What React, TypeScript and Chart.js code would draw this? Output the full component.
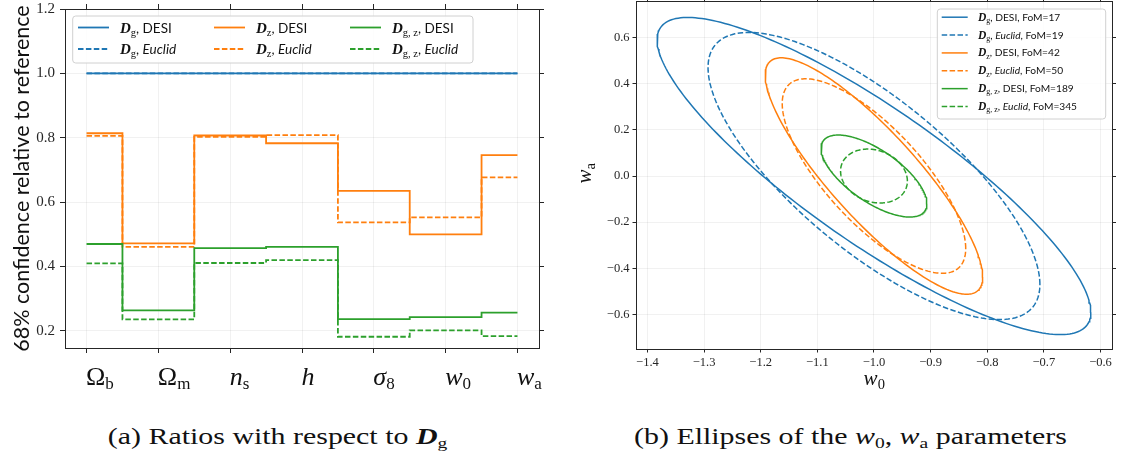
import React, { useEffect, useRef } from 'react';
import { Chart, registerables } from 'chart.js';

Chart.register(...registerables);

// ---------------- data: left panel (ratios) ----------------
const paramMain = ['Ω', 'Ω', 'n', 'h', 'σ', 'w', 'w'];
const paramSub = ['b', 'm', 's', '', '8', '0', 'a'];
const paramItalic = [false, false, true, true, true, true, true];

const ratioDgDESI = [1, 1, 1, 1, 1, 1, 1];
const ratioDgEuclid = [1, 1, 1, 1, 1, 1, 1];
const ratioDzDESI = [0.814, 0.472, 0.807, 0.783, 0.635, 0.5, 0.746];
const ratioDzEuclid = [0.806, 0.461, 0.803, 0.808, 0.537, 0.553, 0.677];
const ratioDgzDESI = [0.47, 0.264, 0.457, 0.461, 0.237, 0.243, 0.257];
const ratioDgzEuclid = [0.41, 0.236, 0.411, 0.42, 0.182, 0.202, 0.184];

const leftYTicks = [0.2, 0.4, 0.6, 0.8, 1.0, 1.2];

// ---------------- data: right panel (w0, wa ellipses) ----------------
const probeSub = ['g', 'g', 'z', 'z', 'g, z', 'g, z'];
const surveyName = ['DESI', 'Euclid', 'DESI', 'Euclid', 'DESI', 'Euclid'];
const fomValues = [17, 19, 42, 50, 189, 345];
const ellCenterW0 = [-1, -1, -1, -1, -1, -1];
const ellCenterWa = [0, 0, 0, 0, 0, 0];
const ellHalfW0 = [0.383, 0.293, 0.192, 0.162, 0.0935, 0.059];
const ellHalfWa = [0.688, 0.623, 0.513, 0.422, 0.178, 0.117];
const ellCorr = [-0.859, -0.755, -0.853, -0.745, -0.674, -0.186];

const w0Ticks = [-1.4, -1.3, -1.2, -1.1, -1.0, -0.9, -0.8, -0.7, -0.6];
const waTicks = [-0.6, -0.4, -0.2, 0, 0.2, 0.4, 0.6];

const BLUE = '#1f77b4';
const ORANGE = '#ff7f0e';
const GREEN = '#2ca02c';
const seriesColors = [BLUE, BLUE, ORANGE, ORANGE, GREEN, GREEN];
const DASH = [5.5, 2.4];

const SERIF = '"Liberation Serif", "DejaVu Serif", serif';
const SANS = 'Lato, "DejaVu Sans", sans-serif';

type Part = { t: string; f: string; dy?: number };

function partsWidth(ctx: CanvasRenderingContext2D, parts: Part[]) {
  let w = 0;
  for (const p of parts) {
    ctx.font = p.f;
    w += ctx.measureText(p.t).width;
  }
  return w;
}

function drawParts(
  ctx: CanvasRenderingContext2D,
  parts: Part[],
  x: number,
  y: number,
  align: 'left' | 'center' | 'right',
  color: string
) {
  const w = partsWidth(ctx, parts);
  let cx = align === 'left' ? x : align === 'center' ? x - w / 2 : x - w;
  ctx.textAlign = 'left';
  ctx.textBaseline = 'alphabetic';
  ctx.fillStyle = color;
  for (const p of parts) {
    ctx.font = p.f;
    ctx.fillText(p.t, cx, y + (p.dy || 0));
    cx += ctx.measureText(p.t).width;
  }
}

function legendParts(i: number, big: boolean): Part[] {
  const dSize = big ? 15 : 11.5;
  const subSize = big ? 10.5 : 8;
  const txt = big ? 13.5 : 10.2;
  const parts: Part[] = [
    { t: 'D', f: `italic bold ${dSize}px ${SERIF}` },
    { t: probeSub[i], f: `${subSize}px ${SERIF}`, dy: big ? 3 : 2.3 },
    { t: ', ', f: `${txt}px ${SANS}` },
  ];
  if (surveyName[i] === 'Euclid') parts.push({ t: 'Euclid', f: `italic ${txt}px ${SANS}` });
  else parts.push({ t: 'DESI', f: `${txt}px ${SANS}` });
  if (!big) parts.push({ t: `, FoM=${fomValues[i]}`, f: `${txt}px ${SANS}` });
  return parts;
}

function drawSample(ctx: CanvasRenderingContext2D, x: number, y: number, len: number, color: string, dashed: boolean, lw: number) {
  ctx.save();
  ctx.strokeStyle = color;
  ctx.lineWidth = lw;
  ctx.setLineDash(dashed ? DASH : []);
  ctx.beginPath();
  ctx.moveTo(x, y);
  ctx.lineTo(x + len, y);
  ctx.stroke();
  ctx.restore();
}

function roundRect(ctx: CanvasRenderingContext2D, x: number, y: number, w: number, h: number, r: number) {
  ctx.beginPath();
  ctx.moveTo(x + r, y);
  ctx.lineTo(x + w - r, y);
  ctx.quadraticCurveTo(x + w, y, x + w, y + r);
  ctx.lineTo(x + w, y + h - r);
  ctx.quadraticCurveTo(x + w, y + h, x + w - r, y + h);
  ctx.lineTo(x + r, y + h);
  ctx.quadraticCurveTo(x, y + h, x, y + h - r);
  ctx.lineTo(x, y + r);
  ctx.quadraticCurveTo(x, y, x + r, y);
  ctx.closePath();
}

function fmtMinus(v: number) {
  return (v < 0 ? '\u2212' : '') + Math.abs(v).toFixed(1);
}

type AxisCfg = {
  position: 'left' | 'right' | 'top' | 'bottom';
  min: number;
  max: number;
  ticks: number[];
  size: number;
  labels: boolean;
  fmt?: (v: number) => string;
  font?: any;
  tickLength: number;
  padding: number;
  grid: boolean;
};

function makeAxis(c: AxisCfg): any {
  const horizontal = c.position === 'top' || c.position === 'bottom';
  return {
    type: 'linear',
    position: c.position,
    min: c.min,
    max: c.max,
    afterBuildTicks: (scale: any) => {
      scale.ticks = c.ticks.map((v) => ({ value: v }));
    },
    afterFit: (scale: any) => {
      if (horizontal) scale.height = c.size;
      else scale.width = c.size;
      scale.paddingTop = 0;
      scale.paddingBottom = 0;
      scale.paddingLeft = 0;
      scale.paddingRight = 0;
    },
    ticks: {
      autoSkip: false,
      maxRotation: 0,
      minRotation: 0,
      padding: c.padding,
      color: '#262626',
      font: c.font || { family: SERIF, size: 12 },
      callback: (v: any) => (c.labels && c.fmt ? c.fmt(Number(v)) : ''),
    },
    grid: {
      display: true,
      drawOnChartArea: c.grid,
      color: 'rgba(0,0,0,0.07)',
      lineWidth: 0.8,
      drawTicks: true,
      tickLength: c.tickLength,
      tickColor: '#262626',
      tickWidth: 1,
    },
    border: { display: true, color: '#262626', width: 1 },
  };
}

// ---------------- left chart ----------------
function LeftChart() {
  const ref = useRef<HTMLCanvasElement | null>(null);
  useEffect(() => {
    const canvas = ref.current!;
    const series = [ratioDgDESI, ratioDgEuclid, ratioDzDESI, ratioDzEuclid, ratioDgzDESI, ratioDgzEuclid];
    const datasets = series.map((vals, i) => ({
      label: `D${probeSub[i]} ${surveyName[i]}`,
      data: vals.map((v, k) => ({ x: k, y: v })),
      borderColor: seriesColors[i],
      backgroundColor: seriesColors[i],
      borderWidth: 1.8,
      borderDash: surveyName[i] === 'Euclid' ? DASH : [],
      stepped: 'middle' as const,
      pointRadius: 0,
      fill: false,
      order: 10 - i,
    }));

    const decor = {
      id: 'leftDecor',
      afterDraw(chart: any) {
        const ctx: CanvasRenderingContext2D = chart.ctx;
        const xs = chart.scales.x;
        ctx.save();
        // x tick labels (math symbols), starting at the tick position as in the reference
        for (let k = 0; k < paramMain.length; k++) {
          const px = xs.getPixelForValue(k);
          const parts: Part[] = [
            { t: paramMain[k], f: `${paramItalic[k] ? 'italic ' : ''}26px ${SERIF}` },
          ];
          if (paramSub[k]) parts.push({ t: paramSub[k], f: `17px ${SERIF}`, dy: 4 });
          drawParts(ctx, parts, px - 0.5, 385, 'left', '#111');
        }
        // y title
        ctx.save();
        ctx.translate(29, (chart.chartArea.top + chart.chartArea.bottom) / 2);
        ctx.rotate(-Math.PI / 2);
        ctx.font = `21.5px ${SANS}`;
        ctx.fillStyle = '#111';
        ctx.textAlign = 'center';
        ctx.textBaseline = 'alphabetic';
        ctx.fillText('68% confidence relative to reference', 0, 0);
        ctx.restore();
        // legend
        ctx.save();
        roundRect(ctx, 72.7, 16, 400.3, 47, 3);
        ctx.fillStyle = 'rgba(255,255,255,0.8)';
        ctx.fill();
        ctx.strokeStyle = '#d0d0d0';
        ctx.lineWidth = 1;
        ctx.stroke();
        ctx.restore();
        const colLine = [78, 214, 350];
        const colText = [120, 256, 392];
        const rowY = [27.5, 49];
        for (let i = 0; i < 6; i++) {
          const col = Math.floor(i / 2);
          const row = i % 2;
          drawSample(ctx, colLine[col], rowY[row], 31, seriesColors[i], surveyName[i] === 'Euclid', 1.8);
          drawParts(ctx, legendParts(i, true), colText[col], rowY[row] + 5, 'left', '#111');
        }
        ctx.restore();
      },
    };

    const chart = new Chart(canvas, {
      type: 'line',
      data: { datasets },
      options: {
        animation: false,
        responsive: false,
        maintainAspectRatio: false,
        layout: { padding: 0 },
        plugins: { legend: { display: false }, tooltip: { enabled: false }, title: { display: false } },
        scales: {
          x: makeAxis({ position: 'bottom', min: -0.3, max: 6.3, ticks: [0, 1, 2, 3, 4, 5, 6], size: 52, labels: false, tickLength: 5, padding: 4, grid: true }),
          x2: makeAxis({ position: 'top', min: -0.3, max: 6.3, ticks: [0, 1, 2, 3, 4, 5, 6], size: 9, labels: false, tickLength: 5, padding: 0, grid: false }),
          y: makeAxis({
            position: 'left', min: 0.147, max: 1.2, ticks: leftYTicks, size: 65, labels: true,
            fmt: (v) => v.toFixed(1), font: { family: SERIF, size: 15 }, tickLength: 5, padding: 5, grid: true,
          }),
          y2: makeAxis({ position: 'right', min: 0.147, max: 1.2, ticks: leftYTicks, size: 21, labels: false, tickLength: 5, padding: 0, grid: false }),
        },
      },
      plugins: [decor],
    } as any);
    return () => chart.destroy();
  }, []);
  return (
    <canvas
      ref={ref}
      width={560}
      height={400}
      style={{ position: 'absolute', left: 0, top: 0, width: 560, height: 400 }}
    />
  );
}

// ---------------- right chart ----------------
function ellipsePoints(i: number) {
  const pts: { x: number; y: number }[] = [];
  const a = ellHalfW0[i];
  const b = ellHalfWa[i];
  const r = ellCorr[i];
  const s = Math.sqrt(1 - r * r);
  for (let k = 0; k <= 240; k++) {
    const t = (k / 240) * Math.PI * 2;
    pts.push({ x: ellCenterW0[i] + a * Math.cos(t), y: ellCenterWa[i] + b * (r * Math.cos(t) + s * Math.sin(t)) });
  }
  return pts;
}

function RightChart() {
  const ref = useRef<HTMLCanvasElement | null>(null);
  useEffect(() => {
    const canvas = ref.current!;
    const datasets = fomValues.map((_, i) => ({
      label: `D${probeSub[i]} ${surveyName[i]} FoM=${fomValues[i]}`,
      data: ellipsePoints(i),
      showLine: true,
      borderColor: seriesColors[i],
      backgroundColor: seriesColors[i],
      borderWidth: 1.5,
      borderDash: surveyName[i] === 'Euclid' ? DASH : [],
      pointRadius: 0,
      fill: false,
      tension: 0,
      order: 10 - i,
    }));

    const decor = {
      id: 'rightDecor',
      afterDraw(chart: any) {
        const ctx: CanvasRenderingContext2D = chart.ctx;
        ctx.save();
        // axis titles
        drawParts(
          ctx,
          [
            { t: 'w', f: `italic 21px ${SERIF}` },
            { t: '0', f: `14.5px ${SERIF}`, dy: 4 },
          ],
          (chart.chartArea.left + chart.chartArea.right) / 2,
          385,
          'center',
          '#111'
        );
        ctx.save();
        ctx.translate(21, (chart.chartArea.top + chart.chartArea.bottom) / 2 - 2);
        ctx.rotate(-Math.PI / 2);
        drawParts(
          ctx,
          [
            { t: 'w', f: `italic 21px ${SERIF}` },
            { t: 'a', f: `14.5px ${SERIF}`, dy: 4 },
          ],
          0,
          0,
          'center',
          '#111'
        );
        ctx.restore();
        // legend
        const ox = -570;
        ctx.save();
        roundRect(ctx, 937.3 + ox, 9, 168.4, 110, 3);
        ctx.fillStyle = 'rgba(255,255,255,0.8)';
        ctx.fill();
        ctx.strokeStyle = '#d0d0d0';
        ctx.lineWidth = 1;
        ctx.stroke();
        ctx.restore();
        for (let i = 0; i < 6; i++) {
          const y = 17.2 + i * 17.86;
          drawSample(ctx, 941.7 + ox, y, 26, seriesColors[i], surveyName[i] === 'Euclid', 1.5);
          drawParts(ctx, legendParts(i, false), 978 + ox, y + 3.5, 'left', '#111');
        }
        ctx.restore();
      },
    };

    const chart = new Chart(canvas, {
      type: 'scatter',
      data: { datasets },
      options: {
        animation: false,
        responsive: false,
        maintainAspectRatio: false,
        layout: { padding: 0 },
        plugins: { legend: { display: false }, tooltip: { enabled: false }, title: { display: false } },
        scales: {
          x: makeAxis({
            position: 'bottom', min: -1.4202, max: -0.5788, ticks: w0Ticks, size: 51, labels: true,
            fmt: fmtMinus, font: { family: SERIF, size: 12.5 }, tickLength: 3.5, padding: 3, grid: true,
          }),
          x2: makeAxis({ position: 'top', min: -1.4202, max: -0.5788, ticks: w0Ticks, size: 1.7, labels: false, tickLength: 3.5, padding: 0, grid: false }),
          y: makeAxis({
            position: 'left', min: -0.7505, max: 0.7565, ticks: waTicks, size: 66, labels: true,
            fmt: fmtMinus, font: { family: SERIF, size: 12.5 }, tickLength: 3.5, padding: 3, grid: true,
          }),
          y2: makeAxis({ position: 'right', min: -0.7505, max: 0.7565, ticks: waTicks, size: 10.5, labels: false, tickLength: 3.5, padding: 0, grid: false }),
        },
      },
      plugins: [decor],
    } as any);
    return () => chart.destroy();
  }, []);
  return (
    <canvas
      ref={ref}
      width={553}
      height={400}
      style={{ position: 'absolute', left: 570, top: 0, width: 553, height: 400 }}
    />
  );
}

export default function App() {
  const capStyle: React.CSSProperties = {
    position: 'absolute',
    top: 424,
    width: 600,
    fontFamily: SERIF,
    fontSize: 23,
    lineHeight: '26px',
    color: '#111',
    whiteSpace: 'nowrap',
    textAlign: 'center',
  };
  const inner: React.CSSProperties = { display: 'inline-block', transform: 'scaleX(1.3)', transformOrigin: 'center' };
  const subStyle: React.CSSProperties = { fontSize: 15, verticalAlign: '-4px' };
  return (
    <div style={{ position: 'absolute', left: 0, top: 0, width: 1123, height: 458, background: '#fff', overflow: 'hidden' }}>
      <LeftChart />
      <RightChart />
      <div style={{ ...capStyle, left: 277.5 - 300 }}>
        <span style={inner}>
          (a) Ratios with respect to <b><i>D</i></b>
          <span style={subStyle}>g</span>
        </span>
      </div>
      <div style={{ ...capStyle, left: 850.5 - 300 }}>
        <span style={inner}>
          (b) Ellipses of the <i>w</i>
          <span style={subStyle}>0</span>, <i>w</i>
          <span style={subStyle}>a</span> parameters
        </span>
      </div>
    </div>
  );
}
